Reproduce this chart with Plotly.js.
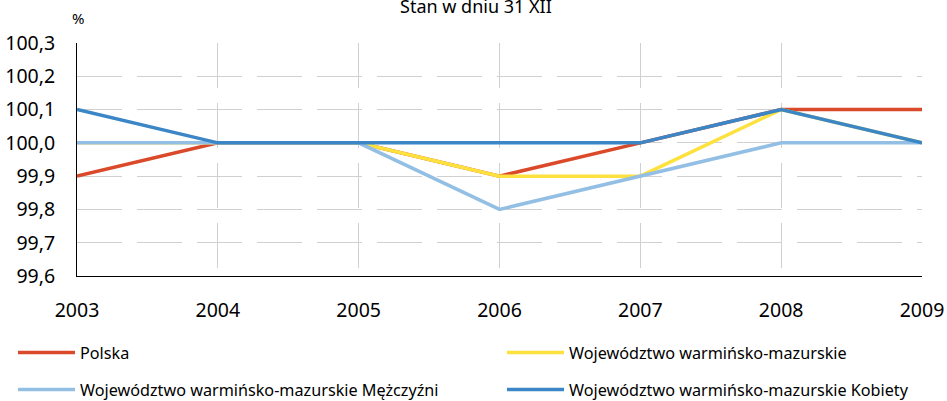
<!DOCTYPE html>
<html>
<head>
<meta charset="utf-8">
<script src="https://cdn.plot.ly/plotly-3.0.1.min.js"></script>
<style>html,body{margin:0;padding:0;background:#fff}#chart{width:947px;height:401px}</style>
</head>
<body>
<div id="chart"></div>
<script>
const years = [2003, 2004, 2005, 2006, 2007, 2008, 2009];
const polska = [99.9, 100.0, 100.0, 99.9, 100.0, 100.1, 100.1];
const wojewodztwo = [100.0, 100.0, 100.0, 99.9, 99.9, 100.1, 100.0];
const mezczyzni = [100.0, 100.0, 100.0, 99.8, 99.9, 100.0, 100.0];
const kobiety = [100.1, 100.0, 100.0, 100.0, 100.0, 100.1, 100.0];
const seriesNames = ["Polska", "Województwo warmińsko-mazurskie", "Województwo warmińsko-mazurskie Mężczyźni", "Województwo warmińsko-mazurskie Kobiety"];
const colors = ["#DA4A2A", "#FDE23F", "#92BFE3", "#3A86C6"];
const values = [polska, wojewodztwo, mezczyzni, kobiety];
const legendIds = ["legend", "legend2", "legend3", "legend4"];
const chartTitle = "Stan w dniu 31 XII";

const FONT = "Noto Sans, Open Sans, sans-serif";
const traces = values.map((v, i) => ({
  x: years, y: v, type: "scatter", mode: "lines", name: seriesNames[i],
  legend: legendIds[i],
  line: {color: colors[i], width: 3.5}, hoverinfo: "skip"
}));

// legend placement: [x px, y px] of each entry (container coordinates)
const legendPos = [[13, 353], [502, 353], [13, 390], [502, 390]];
function legendCfg(p) {
  return {xref: "container", yref: "container", x: p[0] / 947, y: 1 - p[1] / 401, xanchor: "left", yanchor: "middle",
    orientation: "v", font: {family: FONT, size: 16.2, color: "#000"}, itemwidth: 57, bgcolor: "rgba(0,0,0,0)", borderwidth: 0};
}

const layout = {
  width: 947, height: 401,
  margin: {l: 77, r: 25, t: 43, b: 125, autoexpand: false},
  paper_bgcolor: "#fff", plot_bgcolor: "#fff",
  separators: ",.",
  font: {family: FONT, size: 15, color: "#000"},
  showlegend: true,
  legend: legendCfg(legendPos[0]),
  legend2: legendCfg(legendPos[1]),
  legend3: legendCfg(legendPos[2]),
  legend4: legendCfg(legendPos[3]),
  xaxis: {range: [2003, 2009], tickvals: years, ticktext: years.map(String), showgrid: true, gridcolor: "#d0d0d0", gridwidth: 1,
    griddash: "45px,15px", showline: true, linecolor: "#000", linewidth: 1, ticks: "", zeroline: false,
    tickfont: {family: FONT, size: 19.5, color: "#000"}, ticklabelstandoff: 17, fixedrange: true, automargin: false},
  yaxis: {range: [99.6, 100.3], dtick: 0.1, tick0: 99.6, tickformat: ".1f", showgrid: true, gridcolor: "#d0d0d0", gridwidth: 1,
    griddash: "45px,15px", showline: true, linecolor: "#000", linewidth: 1, ticks: "", zeroline: false,
    tickfont: {family: FONT, size: 19.5, color: "#000"}, ticklabelstandoff: 17, fixedrange: true, automargin: false},
  annotations: [
    {text: chartTitle, xref: "paper", yref: "paper", x: 0.472, y: 1.158, xanchor: "center", yanchor: "middle", showarrow: false,
      font: {family: FONT, size: 18, color: "#000"}},
    {text: "%", xref: "paper", yref: "paper", x: 0.001, y: 1.108, xanchor: "center", yanchor: "middle", showarrow: false,
      font: {family: FONT, size: 15, color: "#000"}}
  ]
};
Plotly.newPlot("chart", traces, layout, {displayModeBar: false, staticPlot: true});
</script>
</body>
</html>
